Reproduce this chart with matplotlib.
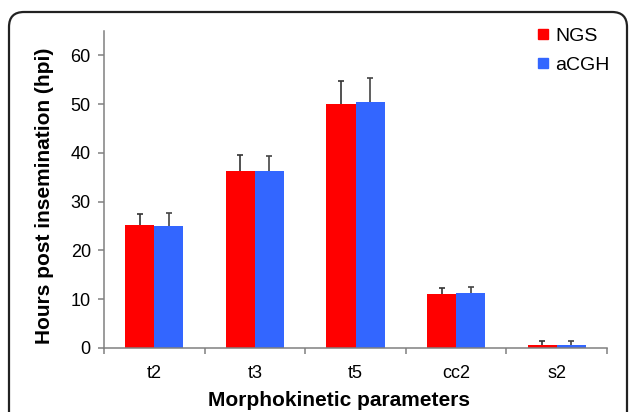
import numpy as np
import matplotlib
matplotlib.use("Agg")
import matplotlib.pyplot as plt
from matplotlib.patches import FancyBboxPatch
from matplotlib.lines import Line2D
from matplotlib.transforms import IdentityTransform

plt.rcParams["font.family"] = ["Liberation Sans", "DejaVu Sans"]

categories = ["t2", "t3", "t5", "cc2", "s2"]
ngs_mean = [25.3, 36.3, 50.1, 11.1, 0.6]
ngs_err = [2.1, 3.3, 4.7, 1.2, 0.8]
acgh_mean = [25.0, 36.3, 50.5, 11.3, 0.7]
acgh_err = [2.6, 3.0, 4.9, 1.2, 0.7]
yticks = [0, 10, 20, 30, 40, 50, 60]

red = "#FF0000"
blue = "#3366FF"
axis_gray = "#808080"

W, H = 629, 412
fig = plt.figure(figsize=(W / 100, H / 100), dpi=100)
ax = fig.add_axes([104 / W, (H - 348) / H, (607 - 104) / W, (348 - 31) / H])

# rounded frame around the whole figure (pixel coords)
frame = FancyBboxPatch((9 + 15, -40), 618 - 30, 400 + 40 - 15,
                       boxstyle="round,pad=15,rounding_size=15",
                       transform=IdentityTransform(), fill=False,
                       edgecolor="#222222", linewidth=1.6, clip_on=False)
fig.patches.append(frame)

x = np.arange(len(categories))
bw = 0.29
ax.bar(x - bw / 2, ngs_mean, bw, color=red, zorder=2)
ax.bar(x + bw / 2, acgh_mean, bw, color=blue, zorder=2)

# upper error bars only
for xs, m, e, c in [(x - bw / 2, ngs_mean, ngs_err, "#333333"),
                    (x + bw / 2, acgh_mean, acgh_err, "#444444")]:
    eb = ax.errorbar(xs, m, yerr=[np.zeros(len(x)), e], fmt="none",
                     ecolor=c, elinewidth=1.2, capsize=2.5, capthick=1.2, zorder=3)
    eb[1][0].set_visible(False)

ax.set_xlim(-0.5, len(categories) - 0.5)
ax.set_ylim(0, 65)
ax.set_yticks(yticks)
ax.tick_params(axis="y", direction="out", length=4.5, width=1.1, color=axis_gray,
               labelsize=13, pad=5)
ax.set_xticks(np.arange(len(categories) + 1) - 0.5)
ax.set_xticklabels([])
ax.set_xticks(x, minor=True)
ax.set_xticklabels(categories, minor=True)
ax.tick_params(axis="x", which="major", direction="out", length=4.5, width=1.1,
               color=axis_gray)
ax.tick_params(axis="x", which="minor", length=0, labelsize=13, pad=12)

for s in ["top", "right"]:
    ax.spines[s].set_visible(False)
for s in ["left", "bottom"]:
    ax.spines[s].set_color(axis_gray)
    ax.spines[s].set_linewidth(1.1)

fig.text(45 / W, 1 - 196 / H, "Hours post insemination (hpi)", rotation=90,
         ha="center", va="center", fontsize=15, fontweight="bold")
fig.text(339 / W, 1 - 400 / H, "Morphokinetic parameters", ha="center",
         va="center", fontsize=15, fontweight="bold")

handles = [Line2D([], [], marker="s", linestyle="none", markersize=7.5, color=red),
           Line2D([], [], marker="s", linestyle="none", markersize=7.5, color=blue)]
fig.legend(handles, ["NGS", "aCGH"], loc="upper left",
           bbox_to_anchor=(536 / W, 1 - 27 / H), frameon=False, fontsize=14,
           handlelength=0.7, handletextpad=0.3, labelspacing=0.6,
           borderpad=0, borderaxespad=0)

fig.savefig("out.png", dpi=100)
